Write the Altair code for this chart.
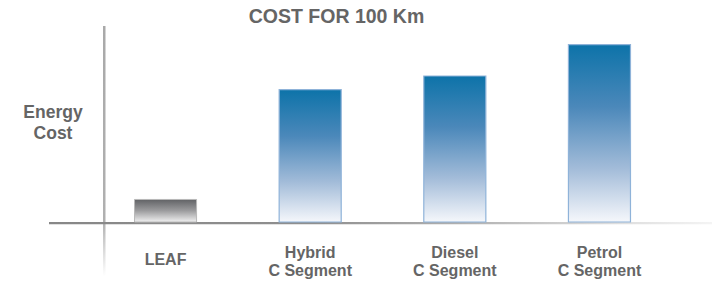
import altair as alt
import pandas as pd

# ---- data ----
categories = ["LEAF", "Hybrid\nC Segment", "Diesel\nC Segment", "Petrol\nC Segment"]
energy_cost = [2.3, 13.5, 14.9, 18.1]

df = pd.DataFrame({"cat": categories, "value": energy_cost})

FONT = "Liberation Sans"
TXT = "#656565"
PLOT_W, PLOT_H = 557, 196

blue_grad = alt.Gradient(
    gradient="linear", x1=0, x2=0, y1=0, y2=1,
    stops=[
        alt.GradientStop(color="#0d73a9", offset=0),
        alt.GradientStop(color="#4b88ba", offset=0.35),
        alt.GradientStop(color="#a3bcd9", offset=0.7),
        alt.GradientStop(color="#f5f7fb", offset=1),
    ],
)
gray_grad = alt.Gradient(
    gradient="linear", x1=0, x2=0, y1=0, y2=1,
    stops=[
        alt.GradientStop(color="#616265", offset=0),
        alt.GradientStop(color="#9c9c9e", offset=0.5),
        alt.GradientStop(color="#f0f0f0", offset=1),
    ],
)
yline_grad = alt.Gradient(
    gradient="linear", x1=0, x2=0, y1=0, y2=1,
    stops=[
        alt.GradientStop(color="#a9a9a9", offset=0),
        alt.GradientStop(color="#b0b0b0", offset=0.78),
        alt.GradientStop(color="#ffffff", offset=1),
    ],
)
base_grad = alt.Gradient(
    gradient="linear", x1=0, x2=1, y1=0, y2=0,
    stops=[
        alt.GradientStop(color="#878787", offset=0),
        alt.GradientStop(color="#8f8f8f", offset=0.4),
        alt.GradientStop(color="#b0b0b0", offset=0.62),
        alt.GradientStop(color="#dcdcdc", offset=0.85),
        alt.GradientStop(color="#f4f4f4", offset=1),
    ],
)

one = alt.Data(values=[{"k": 1}])

y_axis_line = alt.Chart(one).mark_rect(fill=yline_grad).encode(
    x=alt.value(-1), x2=alt.value(1.5), y=alt.value(0), y2=alt.value(250)
)
baseline = alt.Chart(one).mark_rect(fill=base_grad).encode(
    x=alt.value(-55), x2=alt.value(608), y=alt.value(PLOT_H), y2=alt.value(PLOT_H + 2.2)
)

x_enc = alt.X(
    "cat:N",
    scale=alt.Scale(domain=categories, paddingInner=0.571, paddingOuter=0.211),
    axis=alt.Axis(
        title=None, domain=False, ticks=False, grid=False, labelAngle=0,
        labelPadding={"condition": {"test": "datum.value == 'LEAF'", "value": 37}, "value": 30},
        labelBaseline="middle", labelAlign="center",
        labelFontSize=16, labelFontWeight="bold", labelColor=TXT, labelFont=FONT,
        labelLineHeight=18, labelExpr="split(datum.label, '\\n')",
    ),
)
y_enc = alt.Y(
    "value:Q",
    scale=alt.Scale(domain=[0, 20], nice=False),
    axis=alt.Axis(
        title=["Energy", "Cost"], domain=False, ticks=False, labels=False, grid=False,
        titleAngle=0, titleX=-51.5, titleY=86, titleAlign="center",
        titleBaseline="middle", titleFontSize=17.5, titleFontWeight="bold",
        titleColor=TXT, titleFont=FONT, titleLineHeight=21,
    ),
)

bars_base = alt.Chart(df).encode(x=x_enc, y=y_enc)
leaf = bars_base.mark_bar(fill=gray_grad, stroke="#b8b8b8", strokeWidth=1).transform_filter(
    alt.datum.cat == "LEAF"
)
others = bars_base.mark_bar(fill=blue_grad, stroke="#8fb3d9", strokeWidth=1.2).transform_filter(
    alt.datum.cat != "LEAF"
)

chart = alt.layer(y_axis_line, baseline, leaf, others).properties(
    width=PLOT_W,
    height=PLOT_H,
    autosize=alt.AutoSizeParams(type="none"),
    padding={"left": 96, "top": 18, "right": 51, "bottom": 60},
    title=alt.TitleParams(
        "COST FOR 100 Km", fontSize=19.5, font=FONT, fontWeight="bold", color=TXT,
        anchor="middle", dx=-46, offset=-16.5, baseline="alphabetic",
    ),
).configure_view(stroke=None)

chart.save("out.html", embed_options={"renderer": "svg", "actions": False})
